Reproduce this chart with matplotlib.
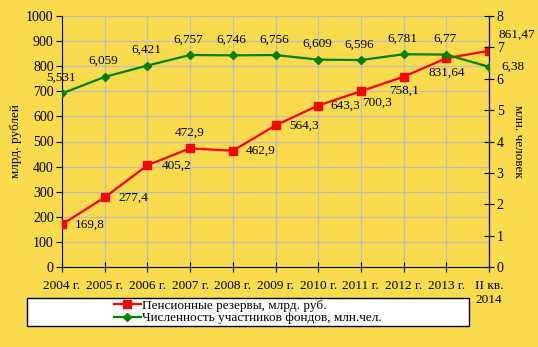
import matplotlib.pyplot as plt
from matplotlib.patches import Rectangle

plt.rcParams['font.family'] = ['Liberation Serif', 'DejaVu Serif']
plt.rcParams['font.size'] = 9

# Данные
годы = ['2004 г.', '2005 г.', '2006 г.', '2007 г.', '2008 г.', '2009 г.',
        '2010 г.', '2011 г.', '2012 г.', '2013 г.', 'II кв.\n2014']
резервы = [169.8, 277.4, 405.2, 472.9, 462.9, 564.3, 643.3, 700.3, 758.1, 831.64, 861.47]
резервы_подписи = ['169,8', '277,4', '405,2', '472,9', '462,9', '564,3',
                   '643,3', '700,3', '758,1', '831,64', '861,47']
участники = [5.531, 6.059, 6.421, 6.757, 6.746, 6.756, 6.609, 6.596, 6.781, 6.77, 6.38]
участники_подписи = ['5,531', '6,059', '6,421', '6,757', '6,746', '6,756',
                     '6,609', '6,596', '6,781', '6,77', '6,38']

фон = '#F9DB4E'
fig = plt.figure(figsize=(5.38, 3.47), dpi=100, facecolor=фон)
ax = fig.add_axes([62 / 538, 1 - 267 / 347, 427 / 538, 251 / 347])
ax.set_facecolor('none')
ax2 = ax.twinx()

x = list(range(len(годы)))

# сетка
ax.set_xlim(0, len(годы) - 1)
ax.set_ylim(0, 1000)
ax.set_yticks(range(0, 1001, 100))
ax.set_xticks(x)
ax.set_xticklabels(годы)
ax.grid(True, color='#BDBDBD', linewidth=0.9)
ax.set_axisbelow(True)

ax2.set_ylim(0, 8)
ax2.set_yticks(range(0, 9))

ax.spines['top'].set_visible(False)
ax2.spines['top'].set_visible(False)
ax2.spines['left'].set_visible(False)
ax2.spines['bottom'].set_visible(False)

ax.tick_params(axis='y', direction='out', length=4, pad=2, labelsize=10)
ax.tick_params(axis='x', direction='inout', length=7, pad=6, labelsize=9.5)
ax2.tick_params(axis='y', direction='inout', length=7, pad=2, labelsize=10)

ax.set_ylabel('млрд. рублей', labelpad=3, fontsize=9.5)
ax2.set_ylabel('млн. человек', rotation=-90, labelpad=15, fontsize=9.5)

# линии
l1, = ax.plot(x, резервы, color='#FF0000', marker='s', markersize=5.5,
              linewidth=1.6, label='Пенсионные резервы, млрд. руб.', zorder=3)
l2, = ax2.plot(x, участники, color='#008000', marker='D', markersize=4.5,
               linewidth=1.6, label='Численность участников фондов, млн.чел.', zorder=3)

# подписи красной линии
смещ_красн = [(9, 0, 'left', 'center'), (10, 0, 'left', 'center'), (10, 0, 'left', 'center'),
              (0, 7, 'center', 'bottom'), (9, 0, 'left', 'center'), (10, 0, 'left', 'center'),
              (9, 0, 'left', 'center'), (1, -8, 'left', 'center'), (0, -6, 'center', 'top'),
              (0, -6, 'center', 'top'), (7, 7, 'left', 'bottom')]
for xi, yi, t, (dx, dy, ha, va) in zip(x, резервы, резервы_подписи, смещ_красн):
    ax.annotate(t, (xi, yi), xytext=(dx, dy), textcoords='offset points',
                ha=ha, va=va, fontsize=9.5)

# подписи зелёной линии
for i, (xi, yi, t) in enumerate(zip(x, участники, участники_подписи)):
    if i == len(x) - 1:
        ax2.annotate(t, (xi, yi), xytext=(9, 0), textcoords='offset points',
                     ha='left', va='center', fontsize=9.5)
    else:
        ax2.annotate(t, (xi, yi), xytext=(-1, 7), textcoords='offset points',
                     ha='center', va='bottom', fontsize=9.5)

# легенда
fig.patches.append(Rectangle((27 / 538, 1 - 326 / 347), 442 / 538, 28 / 347,
                             transform=fig.transFigure, facecolor='white',
                             edgecolor='black', linewidth=1))
fig.legend(handles=[l1, l2], loc='center', bbox_to_anchor=(248 / 538, 1 - 312 / 347),
           frameon=False, fontsize=9.5, handlelength=2.0, handletextpad=0.1,
           labelspacing=0.0, borderpad=0)

plt.savefig('out.png', dpi=100, facecolor=фон)
